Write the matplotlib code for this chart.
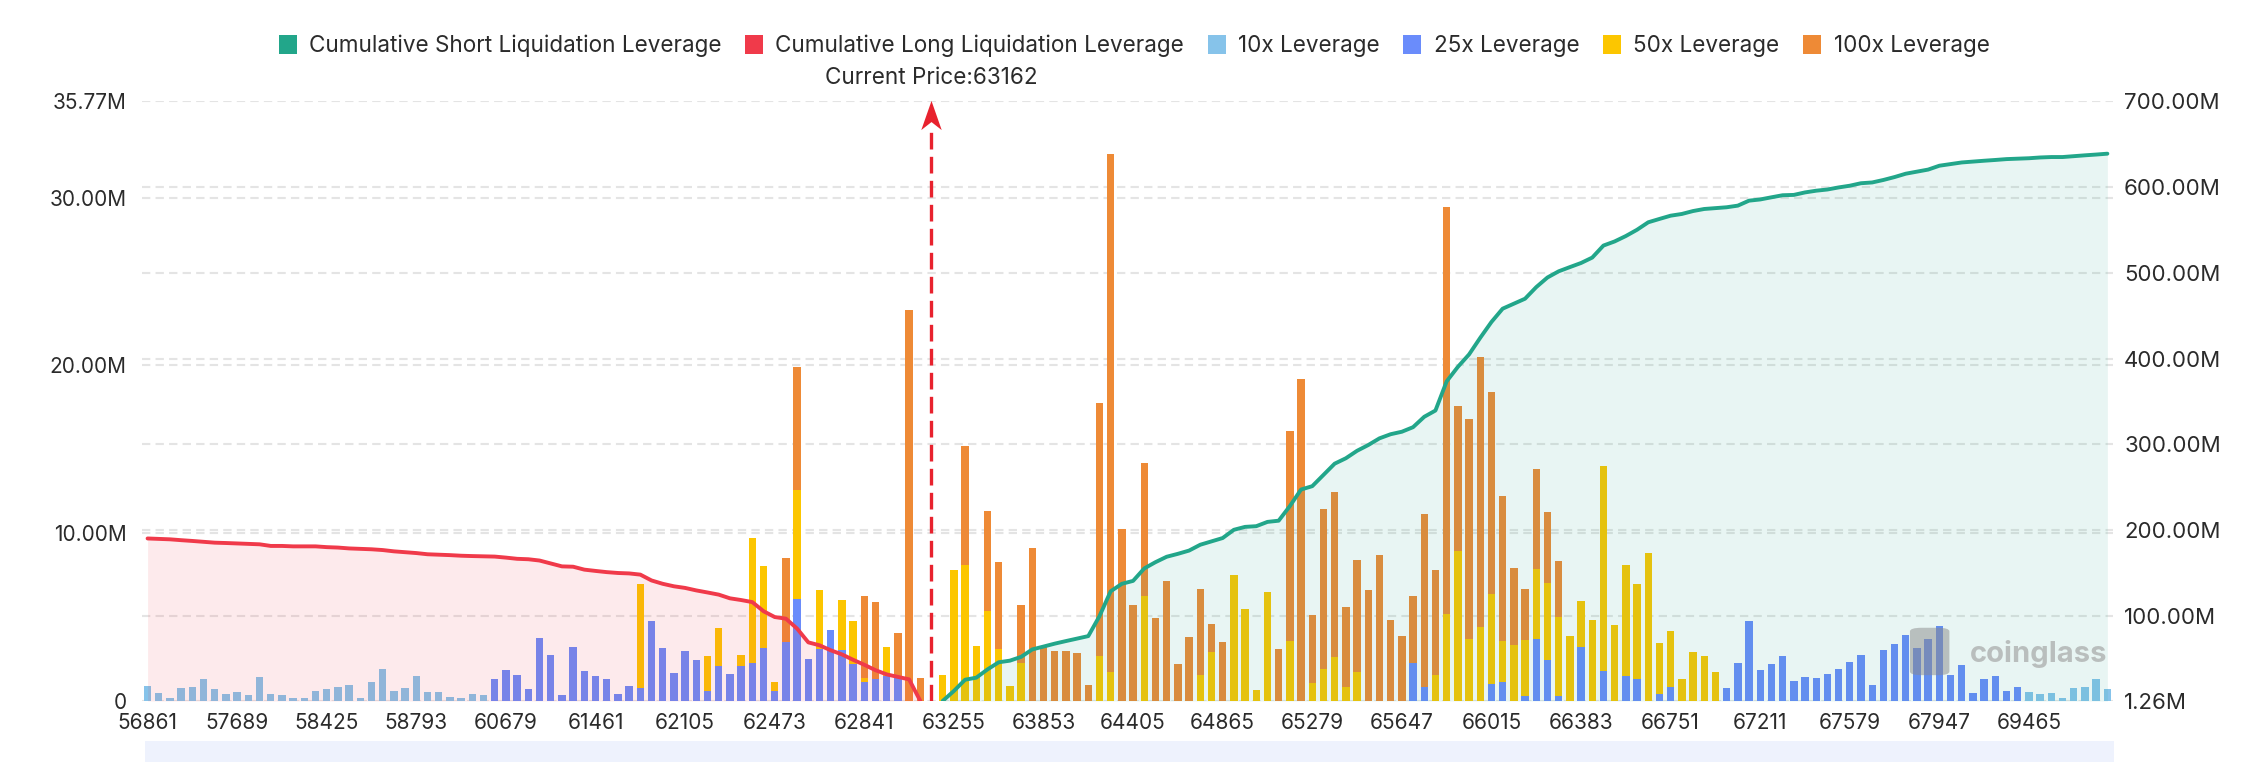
import numpy as np
import matplotlib.pyplot as plt
from matplotlib.patches import Patch, Rectangle, FancyBboxPatch
from matplotlib.path import Path
from matplotlib.ticker import FixedLocator

plt.rcParams['font.family'] = ['Inter', 'DejaVu Sans']

# ---- data --------------------------------------------------------------
x_labels = ['56861', '57689', '58425', '58793', '60679', '61461', '62105', '62473',
            '62841', '63255', '63853', '64405', '64865', '65279', '65647', '66015',
            '66383', '66751', '67211', '67579', '67947', '69465']
label_step = 8
current_price = 63162
current_idx = 70          # empty slot on the price axis where the marker sits

# long side, price levels below current price (index 0..69)
lev10_long = [0.92, 0.47, 0.17, 0.79, 0.84, 1.31, 0.72, 0.40, 0.54, 0.35,
              1.44, 0.42, 0.37, 0.20, 0.20, 0.57, 0.69, 0.84, 0.97, 0.17,
              1.11, 1.93, 0.59, 0.77, 1.49, 0.54, 0.54, 0.25, 0.17, 0.40,
              0.35, 0, 0, 0, 0, 0, 0, 0, 0, 0,
              0, 0, 0, 0, 0, 0, 0, 0, 0, 0,
              0, 0, 0, 0, 0, 0, 0, 0, 0, 0,
              0, 0, 0, 0, 0, 0, 0, 0, 0, 0]
lev25_long = [0, 0, 0, 0, 0, 0, 0, 0, 0, 0,
              0, 0, 0, 0, 0, 0, 0, 0, 0, 0,
              0, 0, 0, 0, 0, 0, 0, 0, 0, 0,
              0, 1.29, 1.86, 1.54, 0.72, 3.77, 2.75, 0.35, 3.22, 1.78,
              1.51, 1.31, 0.42, 0.87, 0.79, 4.76, 3.17, 1.66, 2.97, 2.45,
              0.57, 2.08, 1.61, 2.08, 2.28, 3.15, 0.57, 3.49, 6.09, 2.50,
              3.07, 4.24, 3.02, 2.18, 1.16, 1.31, 1.46, 1.39, 0, 0]
lev50_long = [0, 0, 0, 0, 0, 0, 0, 0, 0, 0,
              0, 0, 0, 0, 0, 0, 0, 0, 0, 0,
              0, 0, 0, 0, 0, 0, 0, 0, 0, 0,
              0, 0, 0, 0, 0, 0, 0, 0, 0, 0,
              0, 0, 0, 0, 6.19, 0, 0, 0, 0, 0,
              2.13, 2.28, 0, 0.67, 7.43, 4.88, 0.59, 0, 6.50, 0,
              3.54, 0, 3.00, 2.58, 0.20, 0, 1.74, 0, 0, 0]
lev100_long = [0, 0, 0, 0, 0, 0, 0, 0, 0, 0,
               0, 0, 0, 0, 0, 0, 0, 0, 0, 0,
               0, 0, 0, 0, 0, 0, 0, 0, 0, 0,
               0, 0, 0, 0, 0, 0, 0, 0, 0, 0,
               0, 0, 0, 0, 0, 0, 0, 0, 0, 0,
               0, 0, 0, 0, 0, 0, 0, 5.03, 7.30, 0,
               0, 0, 0, 0, 4.88, 4.61, 0, 2.67, 23.30, 1.34]

# short side, price levels above current price (index 71..175)
lev10_short = [0, 0, 0, 0, 0, 0, 0, 0, 0, 0,
               0, 0, 0, 0, 0, 0, 0, 0, 0, 0,
               0, 0, 0, 0, 0, 0, 0, 0, 0, 0,
               0, 0, 0, 0, 0, 0, 0, 0, 0, 0,
               0, 0, 0, 0, 0, 0, 0, 0, 0, 0,
               0, 0, 0, 0, 0, 0, 0, 0, 0, 0,
               0, 0, 0, 0, 0, 0, 0, 0, 0, 0,
               0, 0, 0, 0, 0, 0, 0, 0, 0, 0,
               0, 0, 0, 0, 0, 0, 0, 0, 0, 0,
               0, 0, 0, 0, 0, 0, 0, 0.52, 0.42, 0.47,
               0.15, 0.79, 0.84, 1.29, 0.72]
lev25_short = [0, 0, 0, 0, 0, 0, 0, 0, 0, 0,
               0, 0, 0, 0, 0, 0, 0, 0, 0, 0,
               0, 0, 0, 0, 0, 0, 0, 0, 0, 0,
               0, 0, 0, 0, 0, 0, 0, 0, 0, 0,
               0, 0, 2.28, 0.82, 0, 0, 0, 0, 0, 1.04,
               1.14, 0, 0.30, 3.69, 2.43, 0.30, 0, 3.22, 0, 1.78,
               0, 1.51, 1.29, 0, 0.42, 0.84, 0, 0, 0, 0,
               0.77, 2.28, 4.78, 1.86, 2.18, 2.68, 1.21, 1.44, 1.39, 1.59,
               1.93, 2.30, 2.75, 0.97, 3.05, 3.37, 3.96, 3.17, 3.67, 4.48,
               1.54, 2.13, 0.45, 1.31, 1.46, 0.57, 0.84, 0, 0, 0,
               0, 0, 0, 0, 0]
lev50_short = [1.56, 7.83, 8.08, 3.29, 5.35, 3.12, 0.89, 2.28, 0, 0,
               0, 0, 0, 0, 2.70, 1.71, 0, 0, 6.24, 0,
               0, 0, 0, 1.54, 2.92, 0, 7.48, 5.50, 0.67, 6.47,
               0, 3.57, 0, 1.09, 1.91, 2.63, 0.84, 1.73, 0, 0,
               0, 0, 0, 0, 1.56, 5.20, 8.95, 3.69, 4.41, 5.33,
               2.43, 3.32, 3.32, 4.19, 4.63, 4.68, 3.89, 2.75, 4.81, 12.24,
               4.51, 6.57, 5.70, 8.82, 3.02, 3.35, 1.31, 2.90, 2.68, 1.71,
               0, 0, 0, 0, 0, 0, 0, 0, 0, 0,
               0, 0, 0, 0, 0, 0, 0, 0, 0, 0,
               0, 0, 0, 0, 0, 0, 0, 0, 0, 0,
               0, 0, 0, 0, 0]
lev100_short = [0, 0, 7.12, 0, 6.00, 5.15, 0, 3.47, 9.12, 3.20,
                3.00, 3.00, 2.84, 0.97, 15.06, 30.89, 10.26, 5.75, 7.96, 4.93,
                7.13, 2.18, 3.81, 5.15, 1.69, 3.49, 0, 0, 0, 0,
                3.12, 12.51, 19.17, 4.01, 9.53, 9.85, 4.78, 6.67, 6.64, 8.72,
                4.81, 3.86, 3.96, 10.33, 6.27, 24.25, 8.65, 13.11, 16.09, 12.03,
                8.62, 4.61, 3.04, 5.97, 4.19, 3.37, 0, 0, 0, 0,
                0, 0, 0, 0, 0, 0, 0, 0, 0, 0,
                0, 0, 0, 0, 0, 0, 0, 0, 0, 0,
                0, 0, 0, 0, 0, 0, 0, 0, 0, 0,
                0, 0, 0, 0, 0, 0, 0, 0, 0, 0,
                0, 0, 0, 0, 0]

# cumulative lines (right axis, millions)
long_cum = [190.5, 190.0, 189.5, 188.5, 187.6, 186.6, 185.6, 185.2, 184.7, 184.2,
            183.7, 181.8, 181.8, 181.3, 181.3, 181.3, 180.4, 179.9, 178.9, 178.4,
            177.9, 177.0, 175.5, 174.5, 173.5, 172.1, 171.6, 171.1, 170.4, 170.0,
            169.7, 169.4, 168.2, 166.8, 166.3, 164.8, 161.4, 158.0, 157.6, 154.2,
            152.7, 151.3, 150.3, 149.8, 148.4, 141.6, 137.7, 134.8, 132.9, 130.0,
            127.6, 125.1, 120.8, 118.8, 116.4, 105.8, 99.0, 97.1, 85.5, 69.5,
            66.1, 60.3, 55.5, 49.2, 43.4, 37.1, 32.2, 29.3, 26.4, 1.3]
short_cum = [1.3, 12.9, 26.0, 28.4, 38.0, 46.3, 48.2, 52.6, 61.3, 64.6,
             68.0, 71.0, 73.9, 76.8, 100.0, 129.0, 137.7, 141.1, 155.6, 162.9,
             169.2, 172.6, 176.4, 183.2, 187.1, 191.0, 200.6, 204.0, 204.8, 209.8,
             211.2, 228.2, 247.5, 251.4, 264.5, 277.6, 283.9, 292.6, 299.3, 307.1,
             311.9, 314.8, 320.1, 332.2, 339.5, 373.4, 390.3, 404.8, 424.2, 442.6,
             458.1, 463.9, 469.7, 483.2, 494.4, 501.6, 506.5, 511.3, 517.6, 531.6,
             536.4, 542.7, 550.0, 558.7, 562.6, 566.4, 568.4, 571.8, 574.2, 575.2,
             576.2, 578.1, 583.9, 585.3, 587.8, 590.2, 590.6, 593.5, 595.5, 596.9,
             599.3, 601.3, 604.2, 605.1, 608.0, 611.4, 615.3, 617.7, 620.1, 624.6,
             626.5, 628.4, 629.4, 630.4, 631.3, 632.3, 632.8, 633.3, 634.2, 634.7,
             634.7, 635.7, 636.7, 637.6, 638.6]

left_ticks = [0, 10, 20, 30, 35.77]
right_ticks = [1.26, 100, 200, 300, 400, 500, 600, 700]

# ---- colours ------------------------------------------------------------
c_short = '#22a68a'
c_long = '#f03a4a'
c10 = '#86c3ea'
c25 = '#6a8cfb'
c50 = '#fcc600'
c100 = '#ee8a36'
txt = '#2b2b2b'
grid_c = '#e4e4e4'

lev10 = np.array(lev10_long + [0] + lev10_short)
lev25 = np.array(lev25_long + [0] + lev25_short)
lev50 = np.array(lev50_long + [0] + lev50_short)
lev100 = np.array(lev100_long + [0] + lev100_short)
n = len(lev10)
x = np.arange(n)
x_long = np.arange(len(long_cum))
x_short = np.arange(current_idx + 1, current_idx + 1 + len(short_cum))

fig = plt.figure(figsize=(22.5, 7.62), dpi=100)
ax1 = fig.add_axes([0.0631, 0.0801, 0.876, 0.7874])
ax2 = ax1.twinx()

# stacked bars
bw = 0.66
b = np.zeros(n)
for vals, col in [(lev10, c10), (lev25, c25), (lev50, c50), (lev100, c100)]:
    ax1.bar(x, vals, bw, bottom=b, color=col, linewidth=0, zorder=2)
    b = b + vals

ax1.set_xlim(-0.5, n - 0.5)
ax1.set_ylim(left_ticks[0], left_ticks[-1])
ax2.set_ylim(right_ticks[0], right_ticks[-1])

# grid: left ticks + right ticks mapped onto left scale, all behind bars
ax1.set_axisbelow(True)
span_l = left_ticks[-1] - left_ticks[0]
span_r = right_ticks[-1] - right_ticks[0]
mapped = [(r - right_ticks[0]) / span_r * span_l for r in right_ticks[1:-1]]
ax1.yaxis.set_minor_locator(FixedLocator(mapped))
ax1.grid(True, axis='y', which='both', color=grid_c, linestyle=(0, (4, 2.5)), linewidth=1.5)

ax1.set_yticks(left_ticks)
ax1.set_yticklabels(['0' if v == 0 else f'{v:.2f}M' for v in left_ticks])
ax2.set_yticks(right_ticks)
ax2.set_yticklabels([f'{v:.2f}M' for v in right_ticks])
ax1.set_xticks(x[::label_step])
ax1.set_xticklabels(x_labels)

ax1.tick_params(axis='x', length=0, pad=9, labelsize=15, colors=txt)
ax1.tick_params(axis='y', which='both', length=0, pad=11, labelsize=15, colors=txt)
ax2.tick_params(axis='y', length=0, pad=8, labelsize=16, colors=txt)
for a in (ax1, ax2):
    for s in a.spines.values():
        s.set_visible(False)

# cumulative lines with area fill (overlaying the bars)
ax2.fill_between(x_long, long_cum, right_ticks[0], color=c_long, alpha=0.1, linewidth=0, zorder=1)
ax2.fill_between(x_short, short_cum, right_ticks[0], color=c_short, alpha=0.1, linewidth=0, zorder=1)
ax2.plot(x_long, long_cum, color=c_long, lw=2.8, zorder=3, solid_capstyle='round')
ax2.plot(x_short, short_cum, color=c_short, lw=2.8, zorder=3, solid_capstyle='round')

# current price marker
trans = ax2.get_xaxis_transform()
ax2.plot([current_idx, current_idx], [0, 0.955], transform=trans, color='#e8222e',
         lw=2.4, linestyle=(0, (5, 2.2)), zorder=4)
arrow = Path([(0, 1), (0.7, -1), (0, -0.45), (-0.7, -1), (0, 1)],
             [Path.MOVETO, Path.LINETO, Path.LINETO, Path.LINETO, Path.CLOSEPOLY])
ax2.plot([current_idx], [0.976], transform=trans, marker=arrow, markersize=21,
         color='#e8222e', markeredgewidth=0, zorder=5, clip_on=False)
ax2.text(current_idx, 1.038, f'Current Price:{current_price}', transform=trans,
         ha='center', va='center', fontsize=16.2, color=txt)

# watermark: simple logo blob + wordmark
ax2.add_patch(FancyBboxPatch((0.899, 0.045), 0.016, 0.075, transform=ax2.transAxes,
                             boxstyle='round,pad=0.002,rounding_size=0.006',
                             facecolor='#8a8a8a', edgecolor='none', alpha=0.5, zorder=6))
ax2.text(0.997, 0.078, 'coinglass', transform=ax2.transAxes, ha='right', va='center',
         fontsize=21, fontweight='bold', color='#9a9a9a', alpha=0.6, zorder=6)

# legend
handles = [Patch(facecolor=c, edgecolor='none') for c in (c_short, c_long, c10, c25, c50, c100)]
names = ['Cumulative Short Liquidation Leverage', 'Cumulative Long Liquidation Leverage',
         '10x Leverage', '25x Leverage', '50x Leverage', '100x Leverage']
fig.legend(handles, names, loc='center', bbox_to_anchor=(0.504, 0.940), ncol=6,
           frameon=False, fontsize=16.2, handlelength=0.8, handleheight=0.9,
           handletextpad=0.55, columnspacing=1.05, labelcolor=txt)

# zoom slider strip under the axis
fig.patches.append(Rectangle((0.0644, 0.0), 0.8752, 0.027, transform=fig.transFigure,
                             facecolor='#eef2fd', edgecolor='none'))

fig.savefig('out.png', dpi=100)
